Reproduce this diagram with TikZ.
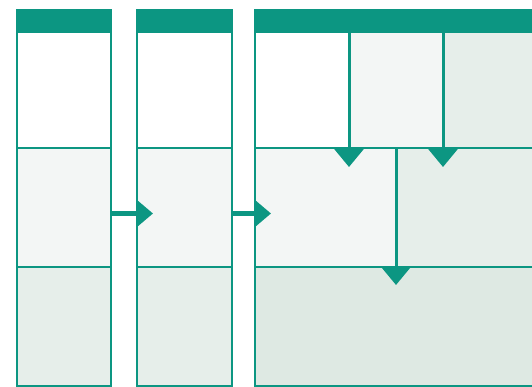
\documentclass[tikz,border=0pt]{standalone}
\usepackage{tikz}
\usetikzlibrary{positioning,arrows.meta}

\definecolor{tealdark}{RGB}{12,150,130}
\definecolor{celllight}{HTML}{F3F6F5}
\definecolor{cellmid}{HTML}{E6EEEA}
\definecolor{celldeep}{HTML}{DEE9E3}

\begin{document}
\begin{tikzpicture}[x=1pt, y=-1pt,
  node distance=0pt,
  cell/.style={draw=tealdark, line width=2.4pt, inner sep=0pt, outer sep=0pt, anchor=north west},
  head/.style={cell, fill=tealdark, minimum height=22pt},
  rowtop/.style={cell, fill=white, minimum height=116pt},
  rowmid/.style={cell, fill=celllight, minimum height=119pt},
  rowlow/.style={cell, fill=cellmid, minimum height=119pt},
  harr/.style={draw=tealdark, line width=4.5pt, -{Triangle[width=26pt,length=16pt]}, shorten >=-16pt},
  varr/.style={draw=tealdark, line width=3pt, -{Triangle[width=29pt,length=18pt]}}]
\useasboundingbox (0,0) rectangle (532,387);
\clip (0,0) rectangle (532,387);
% first column
\node[head, minimum width=94pt] (headA) at (17,10) {};
\node[rowtop, minimum width=94pt, below=of headA] (topA) {};
\node[rowmid, minimum width=94pt, below=of topA] (midA) {};
\node[rowlow, minimum width=94pt, below=of midA] (lowA) {};
% second column
\node[head, minimum width=95pt] (headB) at (137,10) {};
\node[rowtop, minimum width=95pt, below=of headB] (topB) {};
\node[rowmid, minimum width=95pt, below=of topB] (midB) {};
\node[rowlow, minimum width=95pt, below=of midB] (lowB) {};
% third column, runs off the right edge
\node[head, minimum width=285pt] (headC) at (255,10) {};
\node[rowtop, minimum width=94pt] (topC1) at (headC.south west) {};
\node[rowtop, fill=celllight, minimum width=94pt, right=of topC1] (topC2) {};
\node[rowtop, fill=cellmid, minimum width=97pt, right=of topC2] (topC3) {};
\node[rowmid, minimum width=141pt] (midC1) at (topC1.south west) {};
\node[rowmid, fill=cellmid, minimum width=144pt, right=of midC1] (midC2) {};
\node[rowlow, fill=celldeep, minimum width=285pt] (lowC) at (midC1.south west) {};
% arrows
\draw[harr] ([yshift=-6pt]midA.east) -- ([yshift=-6pt]midB.west);
\draw[harr] ([yshift=-6pt]midB.east) -- ([yshift=-6pt]midC1.west);
\draw[varr, shorten >=-19pt] (topC1.north east) -- (topC1.south east);
\draw[varr, shorten >=-19pt] (topC2.north east) -- (topC2.south east);
\draw[varr, shorten >=-18pt] (midC1.north east) -- (midC1.south east);
\end{tikzpicture}
\end{document}
